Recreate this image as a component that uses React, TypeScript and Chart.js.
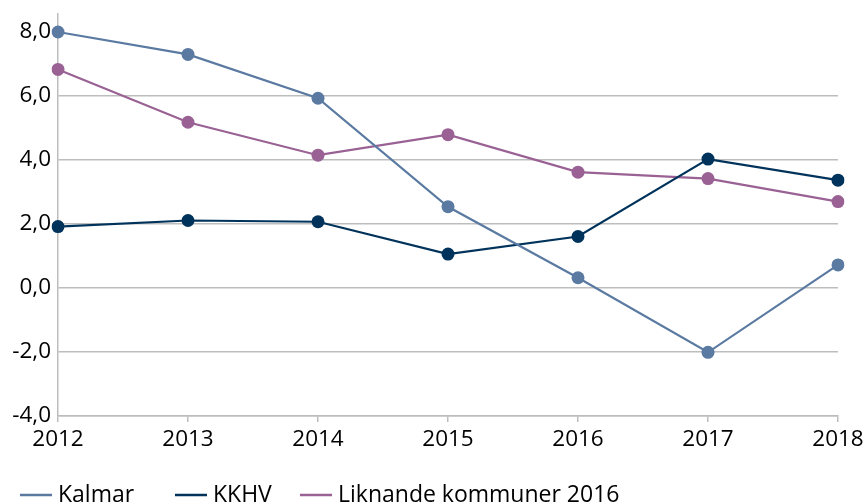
import React, { useEffect, useRef } from 'react';
import { Chart, registerables } from 'chart.js';

Chart.register(...registerables);

const years = ['2012', '2013', '2014', '2015', '2016', '2017', '2018'];
const kalmar = [8.0, 7.3, 5.93, 2.54, 0.32, -2.01, 0.72];
const kkhv = [1.92, 2.11, 2.07, 1.06, 1.61, 4.03, 3.37];
const liknande = [6.83, 5.18, 4.15, 4.79, 3.62, 3.42, 2.7];
const yTicks = [-4, -2, 0, 2, 4, 6, 8];
const seriesNames = ['Kalmar', 'KKHV', 'Liknande kommuner 2016'];
const seriesColors = ['#5a7aa2', '#00335b', '#996194'];

const FONT = '"Open Sans", "Noto Sans", sans-serif';
const GRID = '#bdbdbd';
const TEXT = '#000000';
const LEGEND_X = [20, 175, 300];

const legendPlugin = {
  id: 'customLegend',
  afterDraw(chart: any) {
    const ctx = chart.ctx as CanvasRenderingContext2D;
    ctx.save();
    ctx.font = `23px ${FONT}`;
    ctx.textBaseline = 'alphabetic';
    ctx.textAlign = 'left';
    const yLine = chart.height - 9;
    const yText = chart.height - 2;
    chart.data.datasets.forEach((ds: any, i: number) => {
      const x = LEGEND_X[i];
      ctx.strokeStyle = ds.borderColor;
      ctx.lineWidth = 2.5;
      ctx.beginPath();
      ctx.moveTo(x, yLine);
      ctx.lineTo(x + 32, yLine);
      ctx.stroke();
      ctx.fillStyle = TEXT;
      ctx.fillText(ds.label, x + 38, yText);
    });
    ctx.restore();
  },
};

export default function App() {
  const ref = useRef<HTMLCanvasElement>(null);

  useEffect(() => {
    if (!ref.current) return;
    const seriesData = [kalmar, kkhv, liknande];
    const chart = new Chart(ref.current, {
      type: 'line',
      data: {
        labels: years,
        datasets: seriesNames.map((name, i) => ({
          label: name,
          data: seriesData[i],
          borderColor: seriesColors[i],
          backgroundColor: seriesColors[i],
          pointBackgroundColor: seriesColors[i],
          pointBorderColor: seriesColors[i],
          borderWidth: 2.2,
          pointRadius: 6.5,
          pointBorderWidth: 0,
          tension: 0,
          fill: false,
        })),
      },
      options: {
        animation: false,
        responsive: true,
        maintainAspectRatio: false,
        layout: { padding: { top: 14, right: 29, bottom: 48, left: 0 } },
        plugins: {
          legend: { display: false },
          tooltip: { enabled: false },
        },
        scales: {
          x: {
            type: 'category',
            offset: false,
            grid: {
              drawOnChartArea: false,
              drawTicks: true,
              tickLength: 6,
              color: GRID,
              lineWidth: 1.5,
            },
            border: { color: GRID, width: 1.5 },
            ticks: {
              font: { family: FONT, size: 22.5 },
              color: TEXT,
              padding: 4,
              maxRotation: 0,
              autoSkip: false,
            },
            afterFit: (s: any) => {
              s.height = 40;
              s.paddingLeft = 0;
              s.paddingRight = 0;
            },
          },
          y: {
            min: -4,
            max: 8.5625,
            afterBuildTicks: (s: any) => {
              s.ticks = yTicks.map((v) => ({ value: v }));
            },
            grid: {
              color: (c: any) => (c.tick && c.tick.value === 8 ? 'rgba(0,0,0,0)' : GRID),
              drawTicks: false,
              lineWidth: 1.5,
            },
            border: { color: GRID, width: 1.5 },
            ticks: {
              font: { family: FONT, size: 22.5 },
              color: TEXT,
              padding: 7,
              callback: (v: any) => Number(v).toFixed(1).replace('.', ','),
            },
            afterFit: (s: any) => {
              s.width = 58;
              s.paddingTop = 0;
              s.paddingBottom = 0;
            },
          },
        },
      },
      plugins: [legendPlugin],
    });
    return () => chart.destroy();
  }, []);

  return (
    <div style={{ position: 'absolute', left: 0, top: 0, width: 867, height: 504, background: '#fff' }}>
      <canvas ref={ref} />
    </div>
  );
}
